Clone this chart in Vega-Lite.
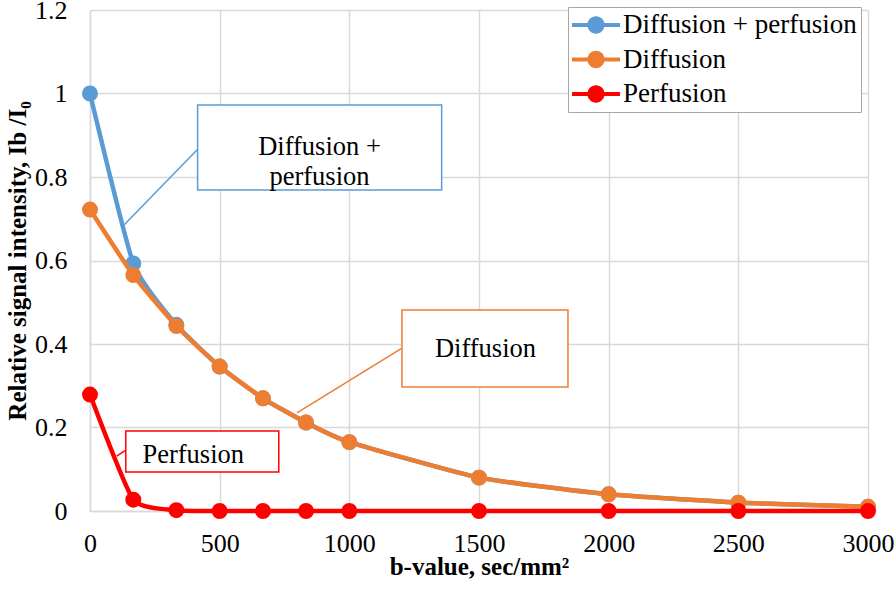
{
  "$schema": "https://vega.github.io/schema/vega-lite/v6.json",
  "width": 778,
  "height": 501,
  "autosize": {"type": "none"},
  "padding": {"left": 90, "top": 10, "right": 26, "bottom": 83},
  "background": "white",
  "config": {"view": {"stroke": null}, "font": "Liberation Serif"},
  "datasets": {
    "curves": [
      {"b": 0, "s": 1.0, "series": "Diffusion + perfusion"},
      {"b": 167, "s": 0.593, "series": "Diffusion + perfusion"},
      {"b": 333, "s": 0.446, "series": "Diffusion + perfusion"},
      {"b": 500, "s": 0.346, "series": "Diffusion + perfusion"},
      {"b": 667, "s": 0.27, "series": "Diffusion + perfusion"},
      {"b": 833, "s": 0.212, "series": "Diffusion + perfusion"},
      {"b": 1000, "s": 0.165, "series": "Diffusion + perfusion"},
      {"b": 1500, "s": 0.08, "series": "Diffusion + perfusion"},
      {"b": 2000, "s": 0.04, "series": "Diffusion + perfusion"},
      {"b": 2500, "s": 0.02, "series": "Diffusion + perfusion"},
      {"b": 3000, "s": 0.01, "series": "Diffusion + perfusion"},
      {"b": 0, "s": 0.722, "series": "Diffusion"},
      {"b": 167, "s": 0.565, "series": "Diffusion"},
      {"b": 333, "s": 0.443, "series": "Diffusion"},
      {"b": 500, "s": 0.346, "series": "Diffusion"},
      {"b": 667, "s": 0.27, "series": "Diffusion"},
      {"b": 833, "s": 0.212, "series": "Diffusion"},
      {"b": 1000, "s": 0.165, "series": "Diffusion"},
      {"b": 1500, "s": 0.08, "series": "Diffusion"},
      {"b": 2000, "s": 0.04, "series": "Diffusion"},
      {"b": 2500, "s": 0.02, "series": "Diffusion"},
      {"b": 3000, "s": 0.01, "series": "Diffusion"},
      {"b": 0, "s": 0.279, "series": "Perfusion"},
      {"b": 167, "s": 0.027, "series": "Perfusion"},
      {"b": 333, "s": 0.002, "series": "Perfusion"},
      {"b": 500, "s": 0, "series": "Perfusion"},
      {"b": 667, "s": 0, "series": "Perfusion"},
      {"b": 833, "s": 0, "series": "Perfusion"},
      {"b": 1000, "s": 0, "series": "Perfusion"},
      {"b": 1500, "s": 0, "series": "Perfusion"},
      {"b": 2000, "s": 0, "series": "Perfusion"},
      {"b": 2500, "s": 0, "series": "Perfusion"},
      {"b": 3000, "s": 0, "series": "Perfusion"}
    ],
    "leaders": [
      {"b": 420, "s": 0.8695, "b2": 131, "s2": 0.685, "series": "Diffusion + perfusion"},
      {"b": 1203, "s": 0.39, "b2": 798, "s2": 0.235, "series": "Diffusion"},
      {"b": 135, "s": 0.1444, "b2": 103, "s2": 0.1317, "series": "Perfusion"}
    ],
    "boxes": [
      {"b": 415, "s": 0.9725, "b2": 1356, "s2": 0.769, "series": "Diffusion + perfusion"},
      {"b": 1203, "s": 0.4815, "b2": 1843, "s2": 0.297, "series": "Diffusion"},
      {"b": 138, "s": 0.1916, "b2": 728, "s2": 0.0934, "series": "Perfusion"}
    ],
    "labels": [
      {"b": 885, "s": 0.872, "label": "Diffusion +\nperfusion"},
      {"b": 1525, "s": 0.389, "label": "Diffusion"},
      {"b": 398, "s": 0.133, "label": "Perfusion"}
    ]
  },
  "encoding": {
    "x": {
      "field": "b",
      "type": "quantitative",
      "scale": {"domain": [0, 3000], "nice": false},
      "axis": {
        "title": "b-value, sec/mm²",
        "values": [0, 500, 1000, 1500, 2000, 2500, 3000],
        "format": "d",
        "grid": true,
        "gridColor": "#D9D9D9",
        "gridWidth": 1.5,
        "domainColor": "#D9D9D9",
        "domainWidth": 1.5,
        "ticks": false,
        "tickSize": 0,
        "labelFont": "Liberation Serif",
        "labelFontSize": 26,
        "labelColor": "black",
        "labelPadding": 19,
        "labelFlush": false,
        "titleFont": "Liberation Serif",
        "titleFontSize": 25,
        "titleFontWeight": "bold",
        "titleColor": "black",
        "titlePadding": -2
      }
    },
    "y": {
      "field": "s",
      "type": "quantitative",
      "scale": {"domain": [0, 1.2], "nice": false},
      "axis": {
        "title": "Relative signal intensity, Ib /I₀",
        "values": [0, 0.2, 0.4, 0.6, 0.8, 1, 1.2],
        "format": "~g",
        "grid": true,
        "gridColor": "#D9D9D9",
        "gridWidth": 1.5,
        "domainColor": "#D9D9D9",
        "domainWidth": 1.5,
        "ticks": false,
        "tickSize": 0,
        "labelFont": "Liberation Serif",
        "labelFontSize": 26,
        "labelColor": "black",
        "labelPadding": 23,
        "labelFlush": false,
        "titleFont": "Liberation Serif",
        "titleFontSize": 25,
        "titleFontWeight": "bold",
        "titleColor": "black",
        "titlePadding": 4
      }
    }
  },
  "layer": [
    {
      "data": {"name": "curves"},
      "transform": [{"filter": "datum.series === 'Diffusion + perfusion'"}],
      "mark": {"type": "line", "interpolate": "cardinal", "tension": 0.5, "strokeWidth": 4.5, "point": {"filled": true, "size": 254, "opacity": 1}},
      "encoding": {
        "color": {
          "field": "series",
          "type": "nominal",
          "scale": {"domain": ["Diffusion + perfusion", "Diffusion", "Perfusion"], "range": ["#5B9BD5", "#ED7D31", "#FF0000"]},
          "legend": {
            "orient": "none",
            "legendX": 478,
            "legendY": -3,
            "title": null,
            "labelFont": "Liberation Serif",
            "labelFontSize": 27,
            "labelColor": "black",
            "labelOffset": 3,
            "labelLimit": 500,
            "symbolType": "M-1,-0.085H1V0.085H-1Z M0.36,0A0.36,0.36,0,1,1,-0.36,0A0.36,0.36,0,1,1,0.36,0Z",
            "symbolSize": 2304,
            "symbolStrokeWidth": 0,
            "clipHeight": 28,
            "rowPadding": 6.5,
            "padding": 4,
            "strokeColor": "#A6A6A6",
            "fillColor": "white",
            "encode": {"symbols": {"update": {"fill": {"scale": "color", "field": "value"}, "fillOpacity": {"value": 1}, "opacity": {"value": 1}}}}
          }
        }
      }
    },
    {
      "data": {"name": "curves"},
      "transform": [{"filter": "datum.series === 'Diffusion'"}],
      "mark": {"type": "line", "interpolate": "cardinal", "tension": 0.5, "strokeWidth": 4.5, "point": {"filled": true, "size": 254, "opacity": 1}},
      "encoding": {
        "color": {"field": "series", "type": "nominal", "scale": {"domain": ["Diffusion + perfusion", "Diffusion", "Perfusion"], "range": ["#5B9BD5", "#ED7D31", "#FF0000"]}}
      }
    },
    {
      "data": {"name": "curves"},
      "transform": [{"filter": "datum.series === 'Perfusion'"}],
      "mark": {"type": "line", "interpolate": "cardinal", "tension": 0.5, "strokeWidth": 4.5, "point": {"filled": true, "size": 254, "opacity": 1}},
      "encoding": {
        "color": {"field": "series", "type": "nominal", "scale": {"domain": ["Diffusion + perfusion", "Diffusion", "Perfusion"], "range": ["#5B9BD5", "#ED7D31", "#FF0000"]}}
      }
    },
    {
      "data": {"name": "leaders"},
      "mark": {"type": "rule", "strokeWidth": 1.5},
      "encoding": {
        "x2": {"field": "b2"},
        "y2": {"field": "s2"},
        "stroke": {"field": "series", "type": "nominal", "scale": {"domain": ["Diffusion + perfusion", "Diffusion", "Perfusion"], "range": ["#5B9BD5", "#ED7D31", "#FF0000"]}, "legend": null}
      }
    },
    {
      "data": {"name": "boxes"},
      "mark": {"type": "rect", "fill": "white", "strokeWidth": 1.5},
      "encoding": {
        "x2": {"field": "b2"},
        "y2": {"field": "s2"},
        "stroke": {"field": "series", "type": "nominal", "scale": {"domain": ["Diffusion + perfusion", "Diffusion", "Perfusion"], "range": ["#5B9BD5", "#ED7D31", "#FF0000"]}, "legend": null}
      }
    },
    {
      "data": {"name": "labels"},
      "mark": {"type": "text", "font": "Liberation Serif", "fontSize": 26.5, "color": "black", "align": "center", "baseline": "middle", "lineBreak": "\n", "lineHeight": 30},
      "encoding": {
        "text": {"field": "label", "type": "nominal"}
      }
    }
  ]
}
